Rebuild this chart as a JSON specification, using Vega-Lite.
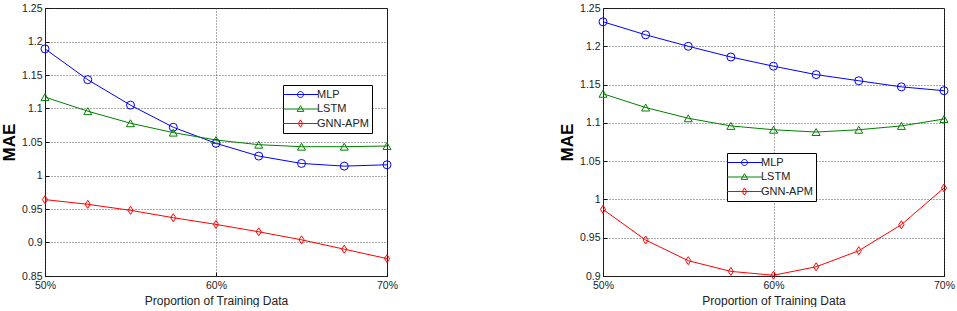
{
  "$schema": "https://vega.github.io/schema/vega-lite/v6.json",
  "padding": {"left": 0, "top": 2, "right": 0, "bottom": 0},
  "background": "white",
  "config": {
    "font": "Liberation Sans",
    "view": {"stroke": "#111", "strokeWidth": 1},
    "axis": {
      "labelFont": "Liberation Sans", "labelFontSize": 10.5, "labelColor": "#222",
      "titleFont": "Liberation Sans", "titleColor": "#222",
      "domain": false, "ticks": true, "tickSize": -4, "tickColor": "#111", "tickWidth": 1, "grid": true,
      "gridColor": "#444", "gridDash": [1, 2], "gridWidth": 1, "gridOpacity": 0.9
    },
    "legend": {
      "orient": "none", "title": null,
      "strokeColor": "#000", "fillColor": "#fff", "padding": 3, "rowPadding": 2.5,
      "labelFont": "Liberation Sans", "labelFontSize": 11, "labelColor": "#222",
      "symbolSize": 144, "symbolOffset": 8, "labelOffset": 10, "symbolStrokeWidth": 1
    }
  },
  "datasets": {
    "left": [
      {"p": 50, "model": "MLP", "mae": 1.189}, {"p": 52.5, "model": "MLP", "mae": 1.143}, {"p": 55, "model": "MLP", "mae": 1.105},
      {"p": 57.5, "model": "MLP", "mae": 1.072}, {"p": 60, "model": "MLP", "mae": 1.048}, {"p": 62.5, "model": "MLP", "mae": 1.029},
      {"p": 65, "model": "MLP", "mae": 1.018}, {"p": 67.5, "model": "MLP", "mae": 1.014}, {"p": 70, "model": "MLP", "mae": 1.016},
      {"p": 50, "model": "LSTM", "mae": 1.117}, {"p": 52.5, "model": "LSTM", "mae": 1.096}, {"p": 55, "model": "LSTM", "mae": 1.078},
      {"p": 57.5, "model": "LSTM", "mae": 1.064}, {"p": 60, "model": "LSTM", "mae": 1.053}, {"p": 62.5, "model": "LSTM", "mae": 1.046},
      {"p": 65, "model": "LSTM", "mae": 1.043}, {"p": 67.5, "model": "LSTM", "mae": 1.043}, {"p": 70, "model": "LSTM", "mae": 1.044},
      {"p": 50, "model": "GNN-APM", "mae": 0.964}, {"p": 52.5, "model": "GNN-APM", "mae": 0.957}, {"p": 55, "model": "GNN-APM", "mae": 0.948},
      {"p": 57.5, "model": "GNN-APM", "mae": 0.937}, {"p": 60, "model": "GNN-APM", "mae": 0.927}, {"p": 62.5, "model": "GNN-APM", "mae": 0.916},
      {"p": 65, "model": "GNN-APM", "mae": 0.904}, {"p": 67.5, "model": "GNN-APM", "mae": 0.890}, {"p": 70, "model": "GNN-APM", "mae": 0.876}
    ],
    "right": [
      {"p": 50, "model": "MLP", "mae": 1.232}, {"p": 52.5, "model": "MLP", "mae": 1.215}, {"p": 55, "model": "MLP", "mae": 1.200},
      {"p": 57.5, "model": "MLP", "mae": 1.186}, {"p": 60, "model": "MLP", "mae": 1.174}, {"p": 62.5, "model": "MLP", "mae": 1.163},
      {"p": 65, "model": "MLP", "mae": 1.155}, {"p": 67.5, "model": "MLP", "mae": 1.147}, {"p": 70, "model": "MLP", "mae": 1.142},
      {"p": 50, "model": "LSTM", "mae": 1.138}, {"p": 52.5, "model": "LSTM", "mae": 1.120}, {"p": 55, "model": "LSTM", "mae": 1.106},
      {"p": 57.5, "model": "LSTM", "mae": 1.096}, {"p": 60, "model": "LSTM", "mae": 1.091}, {"p": 62.5, "model": "LSTM", "mae": 1.088},
      {"p": 65, "model": "LSTM", "mae": 1.091}, {"p": 67.5, "model": "LSTM", "mae": 1.096}, {"p": 70, "model": "LSTM", "mae": 1.105},
      {"p": 50, "model": "GNN-APM", "mae": 0.987}, {"p": 52.5, "model": "GNN-APM", "mae": 0.947}, {"p": 55, "model": "GNN-APM", "mae": 0.920},
      {"p": 57.5, "model": "GNN-APM", "mae": 0.906}, {"p": 60, "model": "GNN-APM", "mae": 0.901}, {"p": 62.5, "model": "GNN-APM", "mae": 0.912},
      {"p": 65, "model": "GNN-APM", "mae": 0.933}, {"p": 67.5, "model": "GNN-APM", "mae": 0.967}, {"p": 70, "model": "GNN-APM", "mae": 1.015}
    ]
  },
  "hconcat": [
    {
      "width": 342, "height": 268,
      "data": {"name": "left"},
      "encoding": {
        "x": {"field": "p", "type": "quantitative", "scale": {"domain": [50, 70], "nice": false, "zero": false},
          "axis": {"values": [50, 60, 70], "labelExpr": "datum.value + '%'", "labelFlush": false, "labelPadding": 8,
            "title": "Proportion of Training Data", "titleFontSize": 12, "titleFontWeight": "normal", "titlePadding": 5}},
        "y": {"field": "mae", "type": "quantitative", "scale": {"domain": [0.85, 1.25], "nice": false, "zero": false},
          "axis": {"values": [0.85, 0.9, 0.95, 1, 1.05, 1.1, 1.15, 1.2, 1.25], "format": "~g", "labelPadding": 7,
            "title": "MAE", "titleFontSize": 17, "titleFontWeight": "bold", "titleColor": "#000", "titlePadding": 3}},
        "color": {"field": "model", "type": "nominal", "legend": null,
          "scale": {"domain": ["MLP", "LSTM", "GNN-APM"], "range": ["#0000ff", "#008000", "#ff0000"]}}
      },
      "layer": [
        {"mark": {"type": "line", "strokeWidth": 1}},
        {"mark": {"type": "point", "filled": false, "size": 64, "strokeWidth": 1, "opacity": 1},
          "encoding": {"shape": {"field": "model", "type": "nominal", "legend": null,
            "scale": {"domain": ["MLP", "LSTM", "GNN-APM"], "range": ["circle", "triangle-up", "M0,-1L0.65,0L0,1L-0.65,0Z"]}}}},
        {"mark": {"type": "point", "filled": false, "size": 144, "strokeWidth": 1, "opacity": 0},
          "encoding": {
            "color": {"field": "model", "type": "nominal",
              "scale": {"domain": ["MLP", "LSTM", "GNN-APM"], "range": ["#0000ff", "#008000", "#ff0000"]},
              "legend": {"orient": "none", "legendX": 238, "legendY": 77, "title": null,
                "encode": {"symbols": {"update": {"opacity": {"value": 1}, "strokeOpacity": {"value": 1}, "fill": {"value": "transparent"}}}}}},
            "shape": {"field": "model", "type": "nominal",
            "scale": {"domain": ["MLP", "LSTM", "GNN-APM"], "range": [
              "M-2.9,0H2.9M0.5,0A0.5,0.5 0 1,0 -0.5,0A0.5,0.5 0 1,0 0.5,0",
              "M-2.9,0H2.9M0,-0.55L0.55,0.4L-0.55,0.4Z",
              "M-2.9,0H2.9M0,-0.6L0.35,0L0,0.6L-0.35,0Z"]},
            "legend": {"orient": "none", "legendX": 238, "legendY": 77, "title": null,
              "encode": {"symbols": {"update": {"opacity": {"value": 1}, "strokeOpacity": {"value": 1}, "fill": {"value": "transparent"}}}}}}}}
      ],
      "resolve": {"scale": {"shape": "independent", "color": "independent"}}
    },
    {
      "width": 341, "height": 268,
      "data": {"name": "right"},
      "encoding": {
        "x": {"field": "p", "type": "quantitative", "scale": {"domain": [50, 70], "nice": false, "zero": false},
          "axis": {"values": [50, 60, 70], "labelExpr": "datum.value + '%'", "labelFlush": false, "labelPadding": 8,
            "title": "Proportion of Training Data", "titleFontSize": 12, "titleFontWeight": "normal", "titlePadding": 5}},
        "y": {"field": "mae", "type": "quantitative", "scale": {"domain": [0.9, 1.25], "nice": false, "zero": false},
          "axis": {"values": [0.9, 0.95, 1, 1.05, 1.1, 1.15, 1.2, 1.25], "format": "~g", "labelPadding": 7,
            "title": "MAE", "titleFontSize": 17, "titleFontWeight": "bold", "titleColor": "#000", "titlePadding": 3}},
        "color": {"field": "model", "type": "nominal", "legend": null,
          "scale": {"domain": ["MLP", "LSTM", "GNN-APM"], "range": ["#0000ff", "#008000", "#ff0000"]}}
      },
      "layer": [
        {"mark": {"type": "line", "strokeWidth": 1}},
        {"mark": {"type": "point", "filled": false, "size": 64, "strokeWidth": 1, "opacity": 1},
          "encoding": {"shape": {"field": "model", "type": "nominal", "legend": null,
            "scale": {"domain": ["MLP", "LSTM", "GNN-APM"], "range": ["circle", "triangle-up", "M0,-1L0.65,0L0,1L-0.65,0Z"]}}}},
        {"mark": {"type": "point", "filled": false, "size": 144, "strokeWidth": 1, "opacity": 0},
          "encoding": {
            "color": {"field": "model", "type": "nominal",
              "scale": {"domain": ["MLP", "LSTM", "GNN-APM"], "range": ["#0000ff", "#008000", "#ff0000"]},
              "legend": {"orient": "none", "legendX": 124, "legendY": 145, "title": null,
                "encode": {"symbols": {"update": {"opacity": {"value": 1}, "strokeOpacity": {"value": 1}, "fill": {"value": "transparent"}}}}}},
            "shape": {"field": "model", "type": "nominal",
            "scale": {"domain": ["MLP", "LSTM", "GNN-APM"], "range": [
              "M-2.9,0H2.9M0.5,0A0.5,0.5 0 1,0 -0.5,0A0.5,0.5 0 1,0 0.5,0",
              "M-2.9,0H2.9M0,-0.55L0.55,0.4L-0.55,0.4Z",
              "M-2.9,0H2.9M0,-0.6L0.35,0L0,0.6L-0.35,0Z"]},
            "legend": {"orient": "none", "legendX": 124, "legendY": 145, "title": null,
              "encode": {"symbols": {"update": {"opacity": {"value": 1}, "strokeOpacity": {"value": 1}, "fill": {"value": "transparent"}}}}}}}}
      ],
      "resolve": {"scale": {"shape": "independent", "color": "independent"}}
    }
  ],
  "spacing": 153,
  "resolve": {"scale": {"color": "independent", "shape": "independent", "x": "independent", "y": "independent"}}
}
